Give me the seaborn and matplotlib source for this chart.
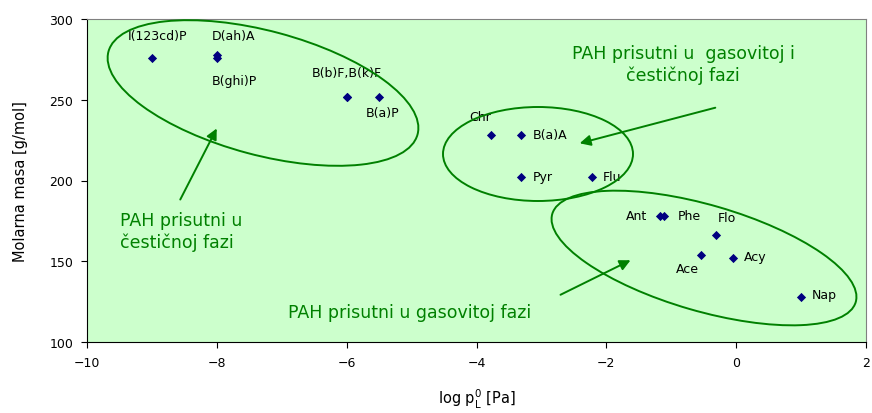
import matplotlib
matplotlib.use('Agg')
import matplotlib.pyplot as plt
import seaborn as sns
import pandas as pd
from matplotlib.patches import Ellipse

# PAH podaci: log p0L [Pa] i molarna masa [g/mol]
names = ['I(123cd)P', 'D(ah)A', 'B(ghi)P', 'B(b)F', 'B(k)F', 'B(a)P',
         'Chr', 'B(a)A', 'Pyr', 'Flu',
         'Ant', 'Phe', 'Flo', 'Ace', 'Acy', 'Nap']
log_p = [-9.0, -8.0, -8.0, -6.0, -6.0, -5.5,
         -3.77, -3.32, -3.32, -2.22,
         -1.17, -1.11, -0.31, -0.54, -0.05, 1.0]
mol_masa = [276, 278, 276, 252, 252, 252,
            228, 228, 202, 202,
            178, 178, 166, 154, 152, 128]

# tekst oznaka i pomak (pikseli) od tacke
oznake = ['I(123cd)P', 'D(ah)A', 'B(ghi)P', 'B(b)F,B(k)F', '', 'B(a)P',
          'Chr', 'B(a)A', 'Pyr', 'Flu',
          'Ant', 'Phe', 'Flo', 'Ace', 'Acy', 'Nap']
pomaci = [(6, 22, 'center'), (-5, 19, 'left'), (-5, -23, 'left'), (0, 24, 'center'), (0, 0, 'center'),
          (3, -16, 'center'), (-11, 19, 'center'), (12, 1, 'left'), (12, 1, 'left'), (11, 1, 'left'),
          (-13, 1, 'right'), (14, 1, 'left'), (11, 18, 'center'), (-14, -14, 'center'),
          (11, 2, 'left'), (11, 2, 'left')]

df = pd.DataFrame({'log_p': log_p, 'masa': mol_masa, 'ime': names})

W, H = 872, 414
fig = plt.figure(figsize=(W / 100, H / 100), dpi=100)
ax = fig.add_axes([87 / W, 1 - 343 / H, (866 - 87) / W, (343 - 20) / H])
ax.set_facecolor('#CCFFCC')

sns.scatterplot(data=df, x='log_p', y='masa', marker='D', s=22, color='#000080',
                edgecolor='#000080', linewidth=0, ax=ax, zorder=3)

for x, y, t, (dx, dy, ha) in zip(log_p, mol_masa, oznake, pomaci):
    if t:
        ax.annotate(t, (x, y), xytext=(dx, dy), textcoords='offset pixels',
                    ha=ha, va='center', fontsize=9, color='black')

ax.set_xlim(-10, 2)
ax.set_ylim(100, 300)
ax.set_xticks(range(-10, 3, 2))
ax.set_yticks(range(100, 301, 50))
ax.tick_params(direction='out', length=4, labelsize=9, colors='black', pad=6)
for s in ['left', 'bottom']:
    ax.spines[s].set_color('black')
for s in ['top', 'right']:
    ax.spines[s].set_color('#808080')

ax.set_xlabel(r'log p$^{\mathregular{0}}_{\mathregular{L}}$ [Pa]', fontsize=10.5, labelpad=13)
ax.set_ylabel('Molarna masa [g/mol]', fontsize=10.5, labelpad=15)

zelena = '#008000'

# elipse (piksel koordinate slike: centar, poluose, ugao)
elipse = [(263, 94, 160, 62, -15.0), (538, 155, 95, 47, 0), (704, 259, 158, 53, -16.2)]
for cx, cy, a, b, ang in elipse:
    e = Ellipse((cx / 100, (H - cy) / 100), 2 * a / 100, 2 * b / 100, angle=ang,
                transform=fig.dpi_scale_trans, fill=False, edgecolor=zelena, lw=1.4)
    fig.add_artist(e)

# strelice
strelice = [((179, 203), (218, 127)), ((718, 108), (577, 145)), ((558, 297), (633, 260))]
for (x0, y0), (x1, y1) in strelice:
    ax.annotate('', xy=(x1, H - y1), xytext=(x0, H - y0), xycoords='figure pixels',
                textcoords='figure pixels',
                arrowprops=dict(arrowstyle='-|>', color=zelena, lw=1.4, mutation_scale=16))

fig.text(120 / W, 1 - 212 / H, 'PAH prisutni u\nčestičnoj fazi', color=zelena, fontsize=12.5,
         ha='left', va='top', linespacing=1.25)
fig.text(683 / W, 1 - 65 / H, 'PAH prisutni u  gasovitoj i\nčestičnoj fazi', color=zelena,
         fontsize=12.5, ha='center', va='center', multialignment='center', linespacing=1.25)
fig.text(410 / W, 1 - 313 / H, 'PAH prisutni u gasovitoj fazi', color=zelena, fontsize=12.5,
         ha='center', va='center')

fig.savefig('out.png', dpi=100)
